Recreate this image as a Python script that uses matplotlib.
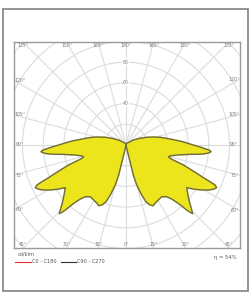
import numpy as np
import matplotlib
matplotlib.use("Agg")
import matplotlib.pyplot as plt
from matplotlib.patches import Rectangle
from matplotlib.lines import Line2D

# ---- data: luminous intensity (cd/klm) vs gamma angle (deg, 0 = downward) ----
gamma = [0, 10, 13, 13.5, 13.7, 15, 17.4, 19.4, 21.8, 24.2, 26.4, 30.4, 34.6, 38.2,
         40.2, 41.5, 42.4, 43, 43.6, 44.2, 45, 46.4, 48.2, 50.3, 52.7, 54.9, 55.9,
         57.3, 59.3, 61.3, 63.1, 64.8, 65.8, 66.4, 67.1, 68.2, 69.4, 70.8, 71.8,
         72.6, 74.2, 76, 78.8, 80.4, 81.7, 82.5, 83.4, 84.4, 85.5, 86.4, 87.3, 88.5,
         90, 91.9, 94.2, 96.4, 99.3, 102.8, 106.3, 110.4, 115.6, 124.4, 129.5, 158, 180]
intensity = [0, 1, 5, 16.6, 29.9, 40, 50.6, 58.1, 62.4, 64.3, 62.9, 61.6, 60.7, 63.6,
             68.3, 73.9, 79.8, 85.9, 89.8, 92.5, 90.2, 86.4, 82.1, 78.2, 74.5, 71.7, 74.7,
             79.2, 85.1, 90.6, 94.6, 96.8, 94.3, 88.6, 81.1, 73.6, 66.1, 58.7, 51.6,
             46.3, 42.5, 43.8, 49.9, 56.1, 62.5, 68.9, 75.2, 79.9, 82.4, 80.7, 76.4, 71.5,
             65, 58.7, 52.3, 46, 39.8, 33.7, 27.5, 21.3, 15, 8.5, 5, 1.7, 1.5]

ring_values = [20, 40, 60, 80, 100, 120, 140, 160]
ring_labels = [40, 60, 80]
angle_ticks = [0, 15, 30, 45, 60, 75, 90, 105, 120, 135, 150, 165, 180]
legend_names = ["C0 - C180", "C90 - C270"]
legend_colors = ["#e03030", "#303040"]
unit_label = "cd/klm"
efficiency = "η = 54%"

W, H = 251, 296
fig = plt.figure(figsize=(W / 100, H / 100), dpi=100)
fig.patch.set_facecolor("white")

# outer frame
frame = fig.add_axes([0, 0, 1, 1])
frame.set_xlim(0, W)
frame.set_ylim(H, 0)
frame.axis("off")
frame.add_patch(Rectangle((3.5, 8.5), 244.5, 282, fill=False, ec="#8a8a8a", lw=1.3))

# plot box in pixels
x0, x1, y0, y1 = 14, 240, 42, 248
cx, cy = 126, 145
s = 1.035  # px per cd/klm
ax = fig.add_axes([x0 / W, 1 - y1 / H, (x1 - x0) / W, (y1 - y0) / H])
xmin, xmax = (x0 - cx) / s, (x1 - cx) / s
ymin, ymax = (cy - y1) / s, (cy - y0) / s
ax.set_xlim(xmin, xmax)
ax.set_ylim(ymin, ymax)
ax.set_xticks([])
ax.set_yticks([])
for sp in ax.spines.values():
    sp.set_color("#9a9a9a")
    sp.set_linewidth(1.0)

gridc = "#dcdcdc"
t = np.linspace(0, 2 * np.pi, 361)
for rv in ring_values:
    ax.plot(rv * np.cos(t), rv * np.sin(t), color=gridc, lw=0.8, zorder=1)
for a in range(0, 360, 15):
    ar = np.radians(a)
    ax.plot([0, 300 * np.sin(ar)], [0, -300 * np.cos(ar)], color=gridc, lw=0.8, zorder=1)

# curve
g = np.radians(np.array(gamma))
r = np.array(intensity)
xr = r * np.sin(g)
yr = -r * np.cos(g)
xs = np.concatenate([xr, -xr[::-1]])
ys = np.concatenate([yr, yr[::-1]])
ax.fill(xs, ys, color="#ece51c", zorder=3)
ax.plot(xs, ys, color="#6e6a48", lw=1.0, zorder=4)

# ring labels
for rv in ring_labels:
    ax.text(0, rv, str(rv), fontsize=3.3, color="#777777", ha="center", va="center",
            zorder=2, bbox=dict(boxstyle="square,pad=0.1", fc="white", ec="none"))

# angle labels along box edges
inset_x, inset_y = 5.5, 3.0
for gv in angle_ticks:
    for side in (1, -1):
        if gv in (0, 180) and side == -1:
            continue
        ar = np.radians(gv)
        dx, dy = side * np.sin(ar), -np.cos(ar)
        ts = []
        if dx > 1e-9:
            ts.append(xmax / dx)
        if dx < -1e-9:
            ts.append(xmin / dx)
        if dy > 1e-9:
            ts.append(ymax / dy)
        if dy < -1e-9:
            ts.append(ymin / dy)
        tt = min(ts)
        px, py = tt * dx, tt * dy
        if abs(py - ymax) < 1e-6 or abs(py - ymin) < 1e-6:
            py = py - np.sign(py) * inset_y
            px = np.clip(px, xmin + inset_x + 2, xmax - inset_x - 2)
        else:
            px = px - np.sign(px) * inset_x
        ax.text(px, py, f"{gv}°", fontsize=3.3, color="#777777", ha="center", va="center", zorder=2)

# legend area
frame.text(18, 254.5, unit_label, fontsize=3.6, color="#555555", ha="left", va="center")
frame.add_line(Line2D([15, 31], [261.5, 261.5], color=legend_colors[0], lw=0.8))
frame.text(32, 261.5, legend_names[0], fontsize=3.6, color="#555555", ha="left", va="center")
frame.add_line(Line2D([61, 76], [261.5, 261.5], color=legend_colors[1], lw=0.8))
frame.text(77, 261.5, legend_names[1], fontsize=3.6, color="#555555", ha="left", va="center")
frame.text(237, 257, efficiency, fontsize=3.8, color="#555555", ha="right", va="center")

fig.savefig("out.png", dpi=100, facecolor="white")
